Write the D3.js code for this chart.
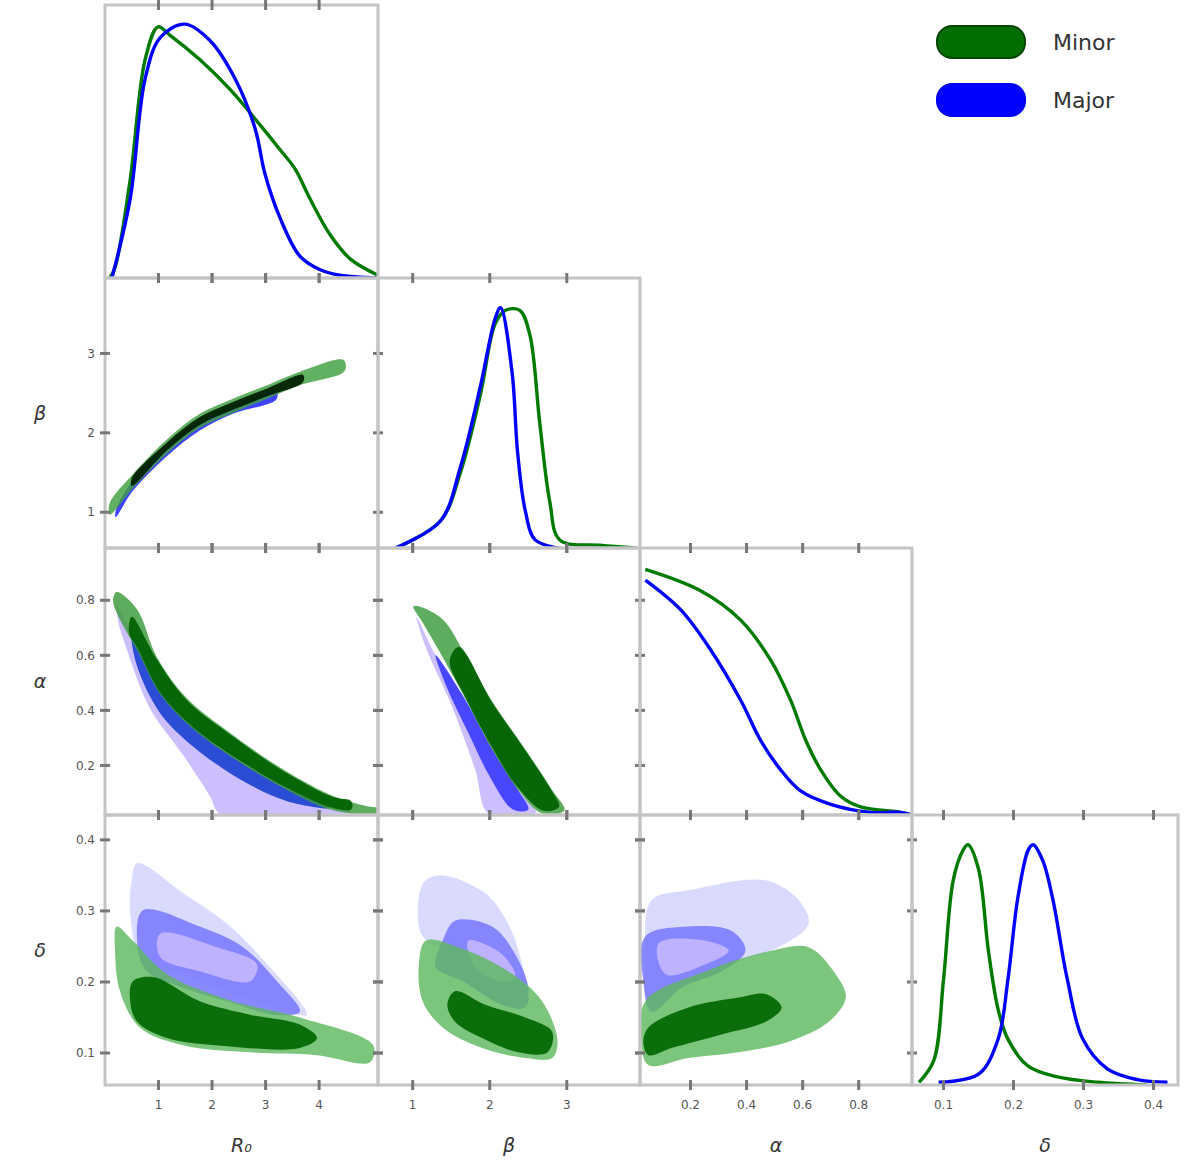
<!DOCTYPE html>
<html>
<head>
<meta charset="utf-8">
<script src="https://cdn.jsdelivr.net/npm/d3@7"></script>
<style>
  body { margin: 0; background: #fff; }
  svg { display: block; }
  text { font-family: "DejaVu Sans", sans-serif; }
</style>
</head>
<body>
<svg id="chart" width="1200" height="1176"></svg>
<script>
// parameter names, axis ranges and ticks
const paramNames = ['R₀', 'β', 'α', 'δ'];
const paramDomains = [[0, 5.1], [0.55, 3.95], [0.02, 0.99], [0.055, 0.435]];
const paramTicks = [[1, 2, 3, 4], [1, 2, 3], [0.2, 0.4, 0.6, 0.8], [0.1, 0.2, 0.3, 0.4]];
const tickLabels = [['1', '2', '3', '4'], ['1', '2', '3'], ['0.2', '0.4', '0.6', '0.8'], ['0.1', '0.2', '0.3', '0.4']];
const seriesNames = ['Minor', 'Major'];

// 1D marginals [value, normalised density]
const r0Minor = [[0.09,0],[0.19,0.04],[0.47,0.36],[0.75,0.8],[0.99,0.92],[1.21,0.89],[1.77,0.8],[2.34,0.69],[2.9,0.56],[3.27,0.47],[3.55,0.4],[3.83,0.29],[4.2,0.16],[4.58,0.07],[5.1,0.01]];
const r0Major = [[0.13,0],[0.47,0.29],[0.75,0.73],[1.03,0.88],[1.49,0.93],[1.96,0.87],[2.43,0.73],[2.8,0.55],[2.99,0.38],[3.27,0.22],[3.64,0.08],[4.02,0.03],[4.39,0.01],[5.1,0]];
const betaMinor = [[0.78,0],[1.36,0.1],[1.62,0.28],[1.88,0.57],[2.07,0.83],[2.2,0.88],[2.39,0.88],[2.52,0.79],[2.65,0.46],[2.78,0.17],[2.91,0.03],[3.43,0.01],[3.9,0]];
const betaMajor = [[0.78,0],[1.36,0.1],[1.62,0.3],[1.88,0.6],[2.07,0.85],[2.14,0.89],[2.29,0.65],[2.36,0.36],[2.46,0.14],[2.59,0.03],[2.9,0]];
const alphaMinor = [[0.039,0.92],[0.236,0.84],[0.379,0.73],[0.486,0.58],[0.557,0.43],[0.611,0.28],[0.664,0.17],[0.736,0.07],[0.807,0.03],[0.95,0.01],[0.99,0]];
const alphaMajor = [[0.039,0.88],[0.164,0.77],[0.271,0.62],[0.379,0.43],[0.45,0.28],[0.521,0.17],[0.593,0.09],[0.7,0.04],[0.843,0.01],[0.95,0.01],[0.99,0]];
const deltaMinor = [[0.065,0.01],[0.086,0.09],[0.1,0.39],[0.114,0.76],[0.128,0.87],[0.135,0.89],[0.15,0.8],[0.164,0.5],[0.178,0.28],[0.192,0.17],[0.221,0.07],[0.263,0.03],[0.32,0.01],[0.391,0]];
const deltaMajor = [[0.093,0.01],[0.15,0.04],[0.178,0.17],[0.192,0.39],[0.206,0.69],[0.221,0.87],[0.228,0.89],[0.242,0.83],[0.256,0.69],[0.277,0.39],[0.299,0.17],[0.334,0.06],[0.377,0.02],[0.42,0.01]];

// 2D credible regions, outer to inner [x value, y value]
const betaR0Minor = [
  [[0.09,1.12],[0.52,1.48],[1.16,1.92],[1.77,2.24],[2.39,2.43],[3.03,2.6],[3.64,2.77],[4.45,2.92],[4.5,2.84],[4.45,2.76],[3.64,2.6],[3.03,2.43],[2.39,2.25],[1.77,2.06],[1.16,1.74],[0.52,1.3],[0.09,0.97]],
  [[0.5,1.43],[1.16,1.88],[1.77,2.2],[2.39,2.39],[3.03,2.56],[3.7,2.73],[3.7,2.64],[3.03,2.46],[2.39,2.29],[1.77,2.1],[1.16,1.78],[0.5,1.33]]
];
const betaR0Major = [
  [[0.2,1.02],[0.52,1.4],[1.16,1.84],[1.77,2.15],[2.39,2.35],[3.2,2.53],[3.2,2.42],[2.39,2.24],[1.77,2.03],[1.16,1.71],[0.52,1.27],[0.2,0.94]]
];
const alphaR0Minor = [
  [[0.22,0.83],[0.6,0.767],[0.97,0.593],[1.53,0.444],[2.39,0.311],[3.33,0.185],[4.26,0.089],[4.89,0.052],[5.1,0.044],[5.1,0.026],[4.26,0.037],[3.4,0.111],[2.52,0.211],[1.64,0.333],[1.03,0.459],[0.6,0.619],[0.28,0.73],[0.15,0.8]],
  [[0.5,0.74],[0.97,0.585],[1.53,0.437],[2.39,0.305],[3.33,0.18],[4.26,0.085],[4.6,0.07],[4.6,0.04],[4.26,0.045],[3.4,0.118],[2.52,0.218],[1.64,0.34],[1.03,0.466],[0.6,0.63],[0.45,0.68]]
];
const alphaR0Major = [
  [[0.22,0.78],[0.6,0.64],[1.03,0.48],[1.64,0.35],[2.52,0.225],[3.4,0.12],[4.26,0.045],[4.6,0.03],[4.0,0.024],[2.15,0.024],[1.96,0.089],[1.46,0.237],[0.84,0.407],[0.41,0.619],[0.25,0.72]],
  [[0.5,0.67],[1.03,0.47],[1.64,0.34],[2.52,0.215],[3.4,0.115],[4.2,0.045],[3.4,0.07],[2.52,0.15],[1.64,0.27],[1.03,0.39],[0.6,0.56]]
];
const alphaBetaMinor = [
  [[1.08,0.778],[1.39,0.73],[1.65,0.619],[2.03,0.433],[2.46,0.259],[2.81,0.111],[2.97,0.037],[2.68,0.026],[2.37,0.111],[2.03,0.259],[1.68,0.444],[1.39,0.593],[1.13,0.719],[1.01,0.778]],
  [[1.6,0.63],[2.03,0.43],[2.46,0.255],[2.81,0.105],[2.9,0.05],[2.7,0.035],[2.37,0.118],[2.03,0.266],[1.68,0.45],[1.48,0.58]]
];
const alphaBetaMajor = [
  [[1.05,0.74],[1.3,0.6],[1.68,0.44],[2.03,0.26],[2.37,0.11],[2.6,0.03],[2.4,0.024],[1.98,0.026],[1.81,0.185],[1.52,0.407],[1.17,0.63]],
  [[1.3,0.6],[1.68,0.44],[2.03,0.26],[2.37,0.11],[2.5,0.04],[2.3,0.04],[2.0,0.16],[1.72,0.32],[1.45,0.48]]
];
const deltaR0Minor = [
  [[0.22,0.278],[0.52,0.258],[1.16,0.211],[2.39,0.173],[3.64,0.15],[5.01,0.111],[4.95,0.087],[3.96,0.097],[2.71,0.101],[1.46,0.111],[0.65,0.136],[0.28,0.187],[0.19,0.24]],
  [[0.52,0.201],[0.9,0.207],[1.77,0.173],[2.71,0.154],[3.64,0.14],[3.96,0.121],[3.64,0.107],[2.39,0.109],[1.16,0.121],[0.6,0.144],[0.47,0.173]]
];
const deltaR0Major = [
  [[0.6,0.367],[1.46,0.325],[2.28,0.282],[3.03,0.225],[3.77,0.154],[3.4,0.158],[2.39,0.183],[1.46,0.211],[0.71,0.229],[0.47,0.296],[0.5,0.343]],
  [[0.71,0.301],[1.77,0.278],[2.58,0.249],[3.21,0.201],[3.64,0.158],[3.14,0.154],[2.28,0.173],[1.46,0.192],[0.78,0.215],[0.6,0.258]],
  [[1.03,0.268],[2.09,0.249],[2.84,0.225],[2.71,0.201],[1.77,0.215],[1.03,0.235]]
];
const deltaBetaMinor = [
  [[1.17,0.258],[1.59,0.249],[2.24,0.215],[2.68,0.173],[2.88,0.116],[2.81,0.093],[2.46,0.093],[1.9,0.107],[1.39,0.136],[1.13,0.173],[1.08,0.225]],
  [[1.55,0.187],[1.94,0.168],[2.46,0.15],[2.81,0.13],[2.75,0.101],[2.37,0.101],[1.9,0.121],[1.55,0.144],[1.45,0.168]]
];
const deltaBetaMajor = [
  [[1.39,0.35],[1.94,0.325],[2.24,0.282],[2.42,0.225],[2.46,0.192],[2.16,0.215],[1.59,0.239],[1.13,0.264],[1.08,0.32],[1.17,0.343]],
  [[1.55,0.286],[2.03,0.278],[2.33,0.239],[2.5,0.192],[2.46,0.164],[2.16,0.168],[1.65,0.201],[1.3,0.221],[1.39,0.258]],
  [[1.72,0.258],[2.16,0.239],[2.33,0.207],[2.16,0.201],[1.81,0.221]]
];
const deltaAlphaMinor = [
  [[0.039,0.173],[0.254,0.215],[0.489,0.244],[0.621,0.249],[0.718,0.211],[0.754,0.178],[0.693,0.144],[0.55,0.116],[0.371,0.101],[0.193,0.093],[0.05,0.083],[0.025,0.116]],
  [[0.05,0.136],[0.193,0.164],[0.371,0.178],[0.468,0.183],[0.525,0.164],[0.468,0.144],[0.311,0.126],[0.132,0.107],[0.05,0.097],[0.032,0.116]]
];
const deltaAlphaMajor = [
  [[0.061,0.315],[0.193,0.329],[0.468,0.343],[0.586,0.315],[0.621,0.282],[0.514,0.249],[0.371,0.229],[0.193,0.201],[0.061,0.173],[0.039,0.249]],
  [[0.039,0.264],[0.193,0.278],[0.346,0.272],[0.396,0.244],[0.311,0.215],[0.168,0.192],[0.061,0.158],[0.032,0.201]],
  [[0.086,0.254],[0.254,0.258],[0.336,0.244],[0.254,0.225],[0.111,0.211]]
];

const marginals = [[r0Minor, r0Major], [betaMinor, betaMajor], [alphaMinor, alphaMajor], [deltaMinor, deltaMajor]];
const regions = {
  '1,0': [betaR0Minor, betaR0Major],
  '2,0': [alphaR0Minor, alphaR0Major],
  '2,1': [alphaBetaMinor, alphaBetaMajor],
  '3,0': [deltaR0Minor, deltaR0Major],
  '3,1': [deltaBetaMinor, deltaBetaMajor],
  '3,2': [deltaAlphaMinor, deltaAlphaMajor]
};

// layout
const colEdges = [105, 378, 640, 912, 1178];
const rowEdges = [5, 278, 548, 815, 1085];
const lineColors = ['#007a00', '#0000ff'];
const frameColor = '#c4c4c4';
const tickColor = '#777';

// band-like panels (thin ridges) get a darker core, like the reference
const styles = {
  '1,0': { minor: ['#3f9f3f', '#001c00'], major: ['#2c2cff'] },
  '2,0': { minor: ['#3a9a3a', '#006000'], major: ['#c8b8ff', '#1a3fd0'] },
  '2,1': { minor: ['#3a9a3a', '#006000'], major: ['#c8b8ff', '#3a3aff'] },
  'default': { minor: ['#5fb85f', '#006600'], major: ['#d6d6ff', '#7b7bff', '#c4b6ff'] }
};

const svg = d3.select('#chart');
const defs = svg.append('defs');

const xScale = (j) => d3.scaleLinear().domain(paramDomains[j]).range([colEdges[j], colEdges[j + 1]]);
const yScale = (i) => d3.scaleLinear().domain(paramDomains[i]).range([rowEdges[i + 1], rowEdges[i]]);

for (let i = 0; i < 4; i++) {
  for (let j = 0; j <= i; j++) {
    const x0 = colEdges[j], x1 = colEdges[j + 1];
    const y0 = rowEdges[i], y1 = rowEdges[i + 1];
    const x = xScale(j);
    const id = `clip-${i}-${j}`;
    defs.append('clipPath').attr('id', id)
      .append('rect').attr('x', x0).attr('y', y0).attr('width', x1 - x0).attr('height', y1 - y0);

    const g = svg.append('g').attr('class', 'panel');
    const plot = g.append('g').attr('clip-path', `url(#${id})`);

    if (i === j) {
      const yd = d3.scaleLinear().domain([0, 1]).range([y1, y0]);
      const line = d3.line()
        .x(d => x(d[0]))
        .y(d => yd(d[1]))
        .curve(d3.curveCatmullRom.alpha(0.5));
      marginals[i].forEach((s, k) => {
        plot.append('path')
          .attr('d', line(s))
          .attr('fill', 'none')
          .attr('stroke', lineColors[k])
          .attr('stroke-width', 3.4)
          .attr('stroke-linejoin', 'round');
      });
    } else {
      const key = `${i},${j}`;
      const st = styles[key] || styles['default'];
      const y = yScale(i);
      const area = d3.line()
        .x(d => x(d[0]))
        .y(d => y(d[1]))
        .curve(d3.curveCatmullRomClosed.alpha(0.5));
      const [minor, major] = regions[key];
      major.forEach((poly, k) => {
        plot.append('path')
          .attr('d', area(poly))
          .attr('fill', st.major[k])
          .attr('fill-opacity', 0.9);
      });
      minor.forEach((poly, k) => {
        plot.append('path')
          .attr('d', area(poly))
          .attr('fill', st.minor[k])
          .attr('fill-opacity', k === 0 ? 0.82 : 0.92);
      });
    }

    // frame
    g.append('rect')
      .attr('x', x0).attr('y', y0)
      .attr('width', x1 - x0).attr('height', y1 - y0)
      .attr('fill', 'none')
      .attr('stroke', frameColor)
      .attr('stroke-width', 3);

    // x ticks on bottom and top edges
    paramTicks[j].forEach(t => {
      [y0, y1].forEach(yy => {
        g.append('line')
          .attr('x1', x(t)).attr('x2', x(t))
          .attr('y1', yy - 5).attr('y2', yy + 5)
          .attr('stroke', tickColor).attr('stroke-width', 3);
      });
    });
    // y ticks on left and right edges
    if (i !== j) {
      const y = yScale(i);
      paramTicks[i].forEach(t => {
        [x0, x1].forEach(xx => {
          g.append('line')
            .attr('x1', xx - 5).attr('x2', xx + 5)
            .attr('y1', y(t)).attr('y2', y(t))
            .attr('stroke', tickColor).attr('stroke-width', 3);
        });
      });
    }

    // tick labels
    if (i === 3) {
      paramTicks[j].forEach((t, k) => {
        svg.append('text')
          .attr('x', x(t)).attr('y', y1 + 24)
          .attr('text-anchor', 'middle')
          .attr('font-size', 12)
          .attr('fill', '#555')
          .text(tickLabels[j][k]);
      });
    }
    if (j === 0 && i > 0) {
      const y = yScale(i);
      paramTicks[i].forEach((t, k) => {
        svg.append('text')
          .attr('x', x0 - 10).attr('y', y(t))
          .attr('dy', '0.35em')
          .attr('text-anchor', 'end')
          .attr('font-size', 12)
          .attr('fill', '#555')
          .text(tickLabels[i][k]);
      });
    }
  }
}

// axis titles
paramNames.forEach((name, j) => {
  svg.append('text')
    .attr('x', (colEdges[j] + colEdges[j + 1]) / 2)
    .attr('y', 1152)
    .attr('text-anchor', 'middle')
    .attr('font-size', 19)
    .attr('font-style', 'italic')
    .attr('fill', '#333')
    .text(name);
});
paramNames.slice(1).forEach((name, k) => {
  const i = k + 1;
  svg.append('text')
    .attr('x', 40)
    .attr('y', (rowEdges[i] + rowEdges[i + 1]) / 2)
    .attr('dy', '0.35em')
    .attr('text-anchor', 'middle')
    .attr('font-size', 19)
    .attr('font-style', 'italic')
    .attr('fill', '#333')
    .text(name);
});

// legend
const legend = svg.append('g').attr('transform', 'translate(937,26)');
seriesNames.forEach((name, k) => {
  const row = legend.append('g').attr('transform', `translate(0,${k * 58})`);
  row.append('rect')
    .attr('width', 88).attr('height', 32).attr('rx', 15)
    .attr('fill', k === 0 ? '#006e00' : '#0000ff')
    .attr('stroke', k === 0 ? '#004400' : '#0000ee')
    .attr('stroke-width', 2);
  row.append('text')
    .attr('x', 116).attr('y', 16)
    .attr('dy', '0.35em')
    .attr('font-size', 22)
    .attr('fill', '#333')
    .text(name);
});
</script>
</body>
</html>
